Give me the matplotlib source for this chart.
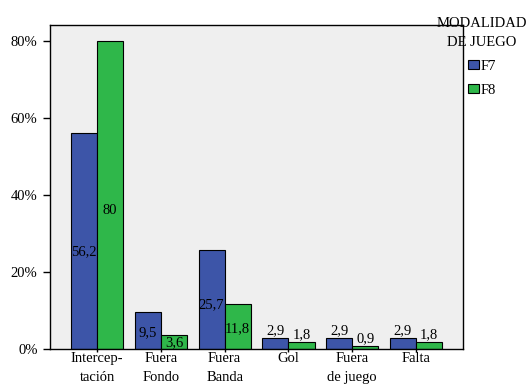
import numpy as np
import matplotlib.pyplot as plt
from matplotlib.patches import Patch

plt.rcParams['font.family'] = ['Liberation Serif', 'DejaVu Serif']

# categories and percentages per game mode
categorias = ['Intercep-\ntación', 'Fuera\nFondo', 'Fuera\nBanda', 'Gol', 'Fuera\nde juego', 'Falta']
f7 = [56.2, 9.5, 25.7, 2.9, 2.9, 2.9]
f8 = [80.0, 3.6, 11.8, 1.8, 0.9, 1.8]
series = ['F7', 'F8']
colores = ['#3d55a8', '#2fb74a']
yticks = [0, 20, 40, 60, 80]

fs = 10.5
fig = plt.figure(figsize=(5.28, 3.88), dpi=100)
ax = fig.add_axes([0.0947, 0.1005, 0.7823, 0.8351])
ax.set_facecolor('#efefef')

x = np.arange(len(categorias))
w = 0.41

for k, (vals, col) in enumerate(zip([f7, f8], colores)):
    xs = x + (k - 0.5) * w
    ax.bar(xs, vals, width=w, color=col, edgecolor='black', linewidth=0.8, zorder=2)
    for xi, v in zip(xs, vals):
        # tall bars get the label inside, short ones just above
        ly = v * 0.45 if v > 3.5 else v + 1.8
        ax.text(xi, ly, f'{v:g}'.replace('.', ','), ha='center', va='center',
                fontsize=fs, zorder=3)

ax.set_xlim(-0.74, 5.74)
ax.set_ylim(0, 84.2)
ax.set_xticks(x)
ax.set_xticklabels(categorias, fontsize=fs, linespacing=1.6)
ax.set_yticks(yticks)
ax.set_yticklabels([f'{t}%' for t in yticks], fontsize=fs)
ax.tick_params(axis='y', length=5, width=1, pad=4)
ax.tick_params(axis='x', length=2.5, width=1, pad=0)
for s in ax.spines.values():
    s.set_linewidth(1)

handles = [Patch(facecolor=c, edgecolor='black', linewidth=0.8) for c in colores]
leg = fig.legend(handles, series, title='MODALIDAD\nDE JUEGO', loc='upper left',
                 bbox_to_anchor=(0.816, 0.972), frameon=False, fontsize=fs,
                 title_fontsize=fs, handlelength=0.75, handleheight=0.6,
                 handletextpad=0.1, labelspacing=0.75, borderaxespad=0)
leg.get_title().set_multialignment('center')
leg.get_title().set_linespacing(1.6)

fig.savefig('out.png', dpi=100)
